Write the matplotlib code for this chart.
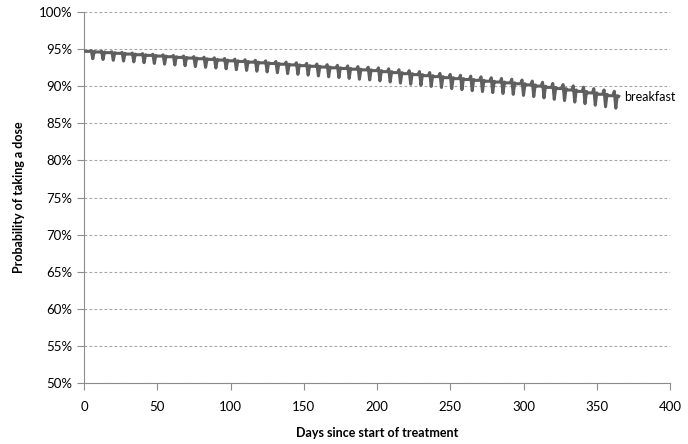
import matplotlib
matplotlib.use("Agg")
from matplotlib import pyplot as plt
from matplotlib.ticker import FuncFormatter

# weekly readings (in %): usual level, the high day, the low day
week_level = [94.70, 94.61, 94.52, 94.43, 94.33, 94.24, 94.15, 94.06, 93.97, 93.88,
              93.79, 93.70, 93.61, 93.52, 93.42, 93.33, 93.24, 93.15, 93.06, 92.96,
              92.87, 92.77, 92.68, 92.58, 92.48, 92.39, 92.29, 92.20, 92.10, 91.96,
              91.83, 91.69, 91.56, 91.42, 91.29, 91.15, 91.02, 90.90, 90.79, 90.67,
              90.56, 90.45, 90.33, 90.18, 90.01, 89.84, 89.68, 89.49, 89.30, 89.10,
              88.91, 88.72, 88.63]
week_high = [94.80, 94.72, 94.64, 94.56, 94.47, 94.39, 94.31, 94.23, 94.15, 94.07,
             93.99, 93.91, 93.83, 93.74, 93.65, 93.57, 93.49, 93.41, 93.33, 93.24,
             93.16, 93.07, 92.99, 92.90, 92.81, 92.73, 92.64, 92.56, 92.47, 92.34,
             92.22, 92.09, 91.97, 91.84, 91.72, 91.59, 91.47, 91.36, 91.26, 91.14,
             91.04, 90.94, 90.83, 90.69, 90.53, 90.37, 90.22, 90.04, 89.86, 89.67,
             89.49, 89.31]
week_low = [93.70, 93.60, 93.49, 93.39, 93.28, 93.17, 93.07, 92.97, 92.86, 92.76,
            92.65, 92.55, 92.45, 92.34, 92.23, 92.13, 92.02, 91.92, 91.82, 91.70,
            91.60, 91.49, 91.38, 91.27, 91.16, 91.05, 90.94, 90.84, 90.72, 90.57,
            90.42, 90.27, 90.13, 89.97, 89.83, 89.68, 89.53, 89.40, 89.28, 89.14,
            89.02, 88.90, 88.76, 88.60, 88.42, 88.23, 88.06, 87.86, 87.65, 87.44,
            87.23, 87.03]
n_days = 365
series_name = "breakfast"

days = list(range(1, n_days + 1))
prob = []
for d in days:
    k, pos = (d - 1) // 7, (d - 1) % 7
    if pos == 4 and k < len(week_high):
        prob.append(week_high[k] / 100)
    elif pos == 5 and k < len(week_low):
        prob.append(week_low[k] / 100)
    else:
        prob.append(week_level[k] / 100)

plt.rcParams['font.family'] = ['Lato', 'DejaVu Sans']

fig = plt.figure(figsize=(6.88, 4.44), dpi=100)
ax = fig.add_axes([84 / 688, 1 - 383 / 444, 586 / 688, 371 / 444])

ax.plot(days, prob, color="#5f5f5f", lw=2.2, solid_joinstyle="round", zorder=3)
ax.text(days[-1] + 4, 88.5 / 100, series_name, fontsize=9, va="center", ha="left")

ax.set_xlim(0, 400)
ax.set_ylim(0.5, 1.0)
ax.set_xticks(range(0, 401, 50))
ax.set_yticks([0.5 + 0.05 * i for i in range(11)])
ax.yaxis.set_major_formatter(FuncFormatter(lambda v, p: f"{round(v * 100)}%"))
ax.grid(axis="y", color="#a6a6a6", ls=(0, (2.5, 2)), lw=0.8)
ax.set_axisbelow(True)

for side in ("top", "right"):
    ax.spines[side].set_visible(False)
for side in ("left", "bottom"):
    ax.spines[side].set_color("#8c8c8c")
ax.tick_params(colors="#8c8c8c", labelcolor="black", labelsize=9.5, length=5, direction="out")
ax.tick_params(axis="x", pad=8)

ax.set_xlabel("Days since start of treatment", fontsize=9, fontweight="bold", labelpad=10)
ax.set_ylabel("Probability of taking a dose", fontsize=9, fontweight="bold", labelpad=10)

fig.savefig("out.png", dpi=100)
